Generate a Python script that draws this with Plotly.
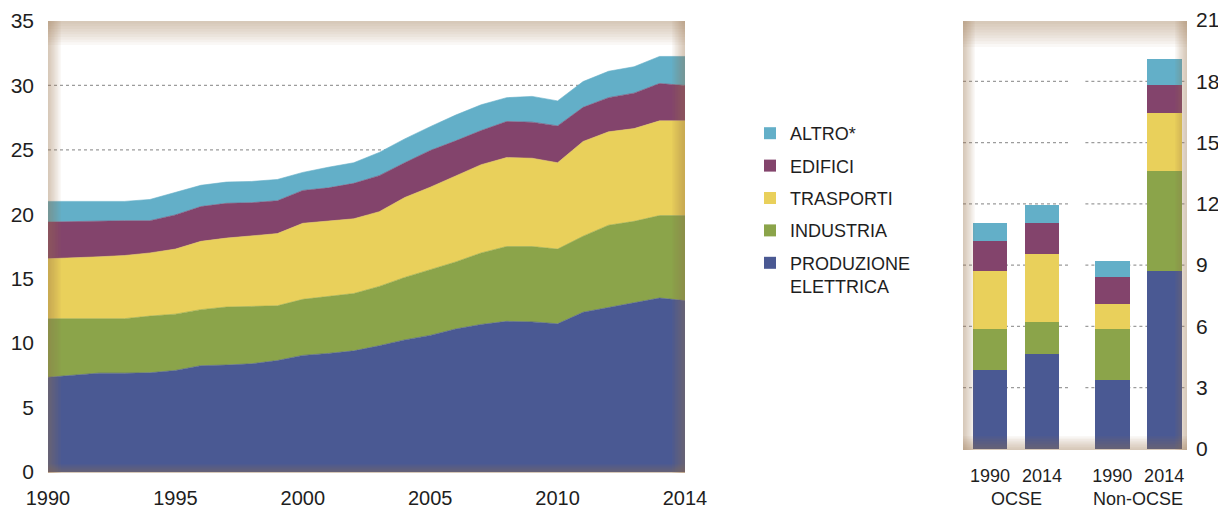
import plotly.graph_objects as go

# ---------------- data ----------------
years = list(range(1990, 2016))
year_tick_vals = [1990, 1995, 2000, 2005, 2010, 2015]
year_tick_text = ["1990", "1995", "2000", "2005", "2010", "2014"]

produzione = [7.35, 7.5, 7.67, 7.67, 7.7, 7.88, 8.25, 8.3, 8.4, 8.65, 9.05, 9.2, 9.4,
              9.8, 10.25, 10.6, 11.1, 11.45, 11.69, 11.65, 11.5, 12.4, 12.75, 13.12, 13.5, 13.3]
industria = [4.55, 4.4, 4.23, 4.23, 4.4, 4.37, 4.35, 4.5, 4.45, 4.25, 4.35, 4.45, 4.45,
             4.6, 4.85, 5.1, 5.2, 5.55, 5.81, 5.85, 5.8, 5.9, 6.4, 6.33, 6.4, 6.6]
trasporti = [4.65, 4.7, 4.8, 4.9, 4.9, 5.05, 5.3, 5.35, 5.45, 5.6, 5.9, 5.85, 5.8,
             5.8, 6.2, 6.4, 6.7, 6.85, 6.9, 6.85, 6.7, 7.35, 7.25, 7.2, 7.35, 7.35]
edifici = [2.85, 2.85, 2.8, 2.7, 2.5, 2.65, 2.7, 2.7, 2.6, 2.55, 2.55, 2.55, 2.75,
           2.8, 2.7, 2.85, 2.7, 2.65, 2.8, 2.8, 2.86, 2.65, 2.65, 2.75, 2.9, 2.75]
altro = [1.6, 1.55, 1.5, 1.5, 1.65, 1.75, 1.65, 1.65, 1.65, 1.65, 1.4, 1.6, 1.6,
         1.8, 1.85, 1.85, 2.0, 2.0, 1.85, 2.0, 1.94, 2.0, 2.05, 2.05, 2.1, 2.25]

bar_regions = ["OCSE", "OCSE", "Non-OCSE", "Non-OCSE"]
bar_years = ["1990", "2014", "1990", "2014"]
bar_produzione = [3.87, 4.65, 3.38, 8.71]
bar_industria = [1.99, 1.58, 2.48, 4.91]
bar_trasporti = [2.85, 3.31, 1.22, 2.84]
bar_edifici = [1.49, 1.51, 1.35, 1.36]
bar_altro = [0.88, 0.89, 0.77, 1.25]

left_ticks = [0, 5, 10, 15, 20, 25, 30, 35]
right_ticks = [0, 3, 6, 9, 12, 15, 18, 21]

series_names = ["PRODUZIONE<br>ELETTRICA", "INDUSTRIA", "TRASPORTI", "EDIFICI", "ALTRO*"]
area_series = [produzione, industria, trasporti, edifici, altro]
bar_series = [bar_produzione, bar_industria, bar_trasporti, bar_edifici, bar_altro]
colors = ["#4a5993", "#8ba44a", "#e9d05b", "#83446c", "#63afc8"]

# ---------------- geometry helpers ----------------
# the page body has an 8px margin, so the figure is drawn 8px in from the window corner
OFF = 8
W, H = 1226 - OFF, 508 - OFF
ML, MR, MT, MB = 48 - OFF, 39, 20 - OFF, 36
PW = W - ML - MR
PH = H - MT - MB


def fx(px):
    """window pixel x -> paper coordinate"""
    return (px - OFF - ML) / PW


def fy(py):
    """window pixel y -> paper coordinate"""
    return (H - MB - (py - OFF)) / PH


# bar x positions from category order (group gap is a layout setting)
group_gap = 2.35
groups = []
for r in bar_regions:
    if r not in groups:
        groups.append(r)
bar_pos = []
seen = {}
for r in bar_regions:
    k = seen.get(r, 0)
    bar_pos.append(groups.index(r) * group_gap + k)
    seen[r] = k + 1

fig = go.Figure()

for name, vals, col in zip(series_names, area_series, colors):
    fig.add_trace(go.Scatter(
        x=years, y=vals, name=name, stackgroup="one", mode="lines",
        line=dict(width=0.6, color=col), fillcolor=col,
        showlegend=False, xaxis="x", yaxis="y", hoverinfo="x+y+name"))

n_series = len(series_names)
for i, (name, vals, col) in enumerate(zip(series_names, bar_series, colors)):
    fig.add_trace(go.Bar(
        x=bar_pos, y=vals, name=name, marker=dict(color=col, line=dict(width=0)),
        width=0.67, xaxis="x2", yaxis="y2", legendgroup=str(i),
        legendrank=100 + (n_series - i), showlegend=True))

TICKFONT = dict(family="Liberation Sans, Arial, sans-serif", size=21, color="#1e1e1e")
XTICKFONT = dict(family="Liberation Sans, Arial, sans-serif", size=20, color="#1e1e1e")
BARFONT = dict(family="Liberation Sans, Arial, sans-serif", size=18, color="#1e1e1e")

x2_range = [-0.52, 3.79]

fig.update_layout(
    template="none",
    width=W, height=H,
    margin=dict(l=ML, r=MR, t=MT, b=MB, autoexpand=False),
    paper_bgcolor="white", plot_bgcolor="rgba(0,0,0,0)",
    barmode="stack",
    showlegend=True,
    legend=dict(
        x=fx(750), y=fy(115), xanchor="left", yanchor="top",
        traceorder="grouped", tracegroupgap=6, valign="top",
        font=dict(family="Liberation Sans, Arial, sans-serif", size=18, color="#1e1e1e"),
        bgcolor="rgba(0,0,0,0)", borderwidth=0, itemclick=False),
    xaxis=dict(domain=[0, fx(685)], range=[1990, 2015], anchor="y", automargin=False,
               tickvals=year_tick_vals, ticktext=year_tick_text,
               showgrid=False, zeroline=False, showline=False, ticks="",
               tickfont=XTICKFONT, ticklabelstandoff=12),
    yaxis=dict(domain=[0, fy(21)], range=[0, 35], anchor="x", automargin=False,
               tickvals=left_ticks, showgrid=False, zeroline=False, showline=False,
               ticks="", tickfont=TICKFONT, ticklabelstandoff=13),
    xaxis2=dict(domain=[fx(963), 1], range=x2_range, anchor="y2", automargin=False,
                tickvals=bar_pos, ticktext=bar_years,
                showgrid=False, zeroline=False, showline=False, ticks="",
                tickfont=BARFONT, ticklabelstandoff=14),
    yaxis2=dict(domain=[fy(449), 1], range=[0, 21], anchor="x2", side="right",
                automargin=False,
                tickvals=right_ticks, showgrid=False, zeroline=False, showline=False,
                ticks="", tickfont=TICKFONT, ticklabelstandoff=8),
)

shapes = []
# dotted gridlines, left chart
for v in left_ticks[1:-1]:
    shapes.append(dict(type="line", xref="x domain", yref="y", x0=0, x1=1, y0=v, y1=v,
                       line=dict(color="#9c9c9c", width=1.2, dash="dot"), layer="below"))
# dotted gridlines, right chart (broken between the two groups)
gap_mid = (bar_pos[1] + bar_pos[2]) / 2
for v in right_ticks[1:-1]:
    for a, b in [(x2_range[0], gap_mid - 0.16), (gap_mid + 0.16, x2_range[1])]:
        shapes.append(dict(type="line", xref="x2", yref="y2", x0=a, x1=b, y0=v, y1=v,
                           line=dict(color="#9c9c9c", width=1.2, dash="dot"), layer="below"))


def panel_shadow(x0, x1, y0, y1, top, side, bottom, n=9, alpha=0.05):
    col = f"rgba(150,125,80,{alpha})"
    for i in range(n):
        f = (i + 1) / n
        for (a, b, c, d) in [
            (x0, x1, y0, y0 + top * f),
            (x0, x1, y1 - bottom * f, y1),
            (x0, x0 + side * f, y0, y1),
            (x1 - side * f, x1, y0, y1),
        ]:
            shapes.append(dict(type="rect", xref="paper", yref="paper",
                               x0=fx(a), x1=fx(b), y0=fy(d), y1=fy(c),
                               fillcolor=col, line=dict(width=0), layer="above"))


panel_shadow(48, 685, 21, 473, top=24, side=13, bottom=9)
panel_shadow(963, 1187, 21, 450, top=26, side=12, bottom=14)

fig.update_layout(shapes=shapes)

# group labels under the bars
annotations = []
for g in groups:
    ps = [p for p, r in zip(bar_pos, bar_regions) if r == g]
    annotations.append(dict(x=sum(ps) / len(ps), y=fy(487), xref="x2", yref="paper",
                            text=g, showarrow=False, font=BARFONT,
                            xanchor="center", yanchor="top"))
fig.update_layout(annotations=annotations)

fig.write_html("out.html")
